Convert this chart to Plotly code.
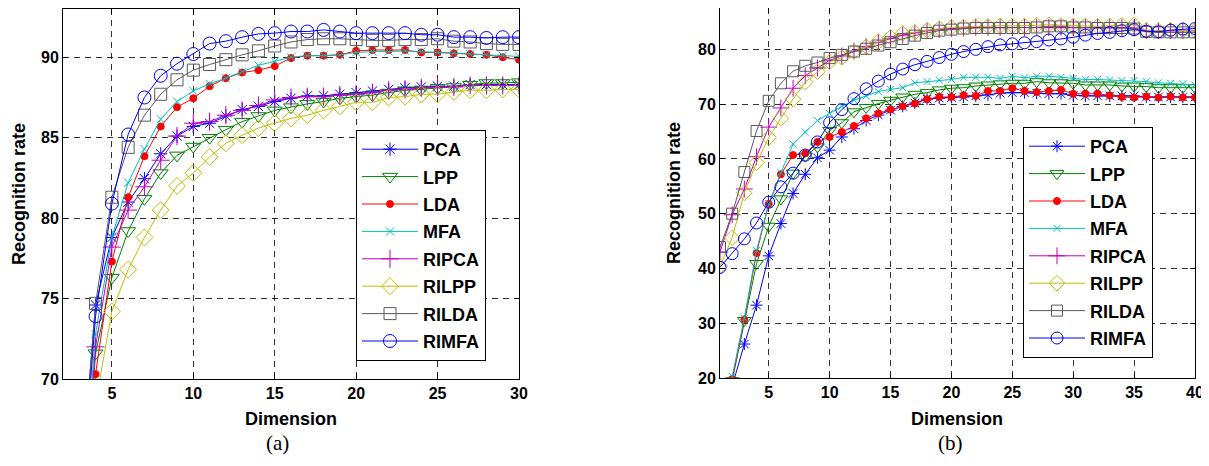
import plotly.graph_objects as go

# ---- data ----
dims_a = list(range(3, 31))
pca_a = [62.0, 74.6, 78.8, 81.0, 82.45, 84.0, 85.1, 85.7, 85.9, 86.35, 86.75, 86.95, 87.25, 87.45,
         87.6, 87.6, 87.7, 87.8, 87.9, 88.0, 88.1, 88.15, 88.2, 88.2, 88.3, 88.3, 88.3, 88.3]
lpp_a = [58.0, 71.6, 76.3, 79.2, 81.2, 82.8, 83.9, 84.45, 85.0, 85.5, 86.0, 86.35, 86.7, 86.9,
         87.1, 87.25, 87.45, 87.55, 87.65, 87.8, 87.95, 88.0, 88.1, 88.15, 88.3, 88.4, 88.4, 88.45]
lda_a = [57.0, 70.3, 77.3, 81.3, 83.85, 85.7, 86.9, 87.45, 88.2, 88.7, 89.05, 89.2, 89.45, 89.95,
         90.1, 90.1, 90.15, 90.4, 90.45, 90.45, 90.45, 90.3, 90.3, 90.25, 90.2, 90.15, 90.0, 89.85]
mfa_a = [60.0, 72.8, 78.8, 82.2, 84.3, 86.15, 87.25, 87.9, 88.35, 88.7, 89.1, 89.5, 89.75, 90.0,
         90.1, 90.1, 90.15, 90.3, 90.35, 90.35, 90.4, 90.35, 90.3, 90.25, 90.2, 90.15, 90.1, 90.05]
ripca_a = [59.0, 72.0, 78.2, 80.5, 81.95, 83.6, 85.1, 85.9, 86.0, 86.4, 86.7, 87.0, 87.35, 87.5,
           87.55, 87.55, 87.65, 87.7, 87.8, 87.95, 88.0, 88.1, 88.15, 88.15, 88.25, 88.25, 88.25, 88.25]
rilpp_a = [56.0, 68.5, 74.2, 76.8, 78.8, 80.5, 82.0, 82.8, 83.8, 84.65, 85.15, 85.6, 85.9, 86.2,
           86.4, 86.7, 86.95, 87.2, 87.2, 87.5, 87.55, 87.7, 87.7, 87.85, 87.95, 87.95, 88.0, 88.0]
rilda_a = [62.0, 74.7, 81.3, 84.4, 86.4, 87.7, 88.6, 89.2, 89.55, 89.85, 90.15, 90.4, 90.7, 90.95,
           91.1, 91.15, 91.15, 91.1, 91.05, 91.05, 91.1, 91.1, 91.15, 91.0, 90.95, 90.85, 90.8, 90.8]
rimfa_a = [61.0, 73.9, 80.9, 85.2, 87.5, 88.85, 89.6, 90.2, 90.85, 91.0, 91.25, 91.45, 91.5, 91.6,
           91.6, 91.7, 91.6, 91.5, 91.5, 91.5, 91.5, 91.4, 91.4, 91.25, 91.25, 91.2, 91.25, 91.25]

dims_b = list(range(1, 41))
dims_b_low = list(range(2, 41))
pca_b = [18.5, 26.2, 33.3, 42.3, 48.2, 53.7, 57.2, 60.2, 61.6,
         64.0, 65.5, 67.0, 68.0, 68.9, 69.6, 70.2, 70.9, 71.1, 71.2,
         71.3, 71.5, 71.7, 72.0, 72.1, 72.1, 72.0, 71.9, 71.9, 71.6,
         71.5, 71.5, 71.5, 71.5, 71.5, 71.3, 71.3, 71.3, 71.3, 71.3]
lpp_b = [19.5, 30.5, 40.9, 47.7, 52.7, 57.4, 60.5, 62.2, 65.2,
         66.6, 68.6, 69.4, 70.1, 70.7, 71.3, 71.8, 72.1, 72.6, 72.9,
         73.0, 73.3, 73.5, 73.7, 73.8, 73.8, 74.1, 73.9, 73.9, 73.8,
         73.5, 73.5, 73.5, 73.3, 73.3, 73.2, 73.0, 73.0, 73.0, 73.0]
lda_b = [19.8, 30.7, 42.8, 51.8, 57.2, 60.7, 61.0, 63.1, 64.0,
         64.9, 66.0, 67.4, 68.3, 69.0, 69.6, 70.1, 70.9, 71.3, 71.3,
         71.6, 71.5, 72.4, 72.4, 72.9, 72.4, 72.2, 72.4, 72.6, 71.9,
         71.9, 71.9, 71.6, 71.3, 71.2, 71.4, 71.2, 71.4, 71.2, 71.2]
mfa_b = [20.3, 30.9, 43.3, 51.8, 57.5, 62.7, 64.9, 67.0, 68.3,
         69.6, 70.7, 71.5, 72.3, 72.7, 73.0, 73.9, 74.1, 74.4, 74.5,
         74.9, 74.9, 74.9, 74.7, 75.1, 74.8, 75.1, 75.1, 74.9, 74.7,
         74.5, 74.5, 74.4, 74.3, 74.3, 74.1, 73.9, 73.8, 73.7, 73.5]
ripca_b = [43.0, 49.8, 54.5, 60.4, 65.8, 69.3, 72.9, 75.2, 76.6, 78.0,
           78.8, 79.7, 80.5, 81.3, 82.0, 82.6, 83.0, 83.4, 83.6, 83.8,
           83.9, 84.0, 84.0, 84.0, 84.0, 84.0, 84.0, 84.0, 84.0, 84.0,
           84.0, 84.0, 84.0, 84.0, 83.9, 83.4, 83.4, 83.4, 83.4, 83.4]
rilpp_b = [40.4, 45.6, 53.8, 59.3, 63.9, 67.4, 70.9, 74.0, 75.9, 77.7,
           78.5, 79.6, 80.5, 81.4, 82.2, 82.9, 83.1, 83.5, 83.8, 84.0,
           84.1, 84.2, 84.2, 84.3, 84.3, 84.3, 84.4, 84.5, 84.4, 84.3,
           84.3, 84.2, 84.3, 84.4, 84.5, 83.5, 83.4, 83.5, 83.5, 83.4]
rilda_b = [43.9, 50.0, 57.6, 65.1, 70.6, 73.8, 76.0, 77.0, 77.6, 78.4,
           79.0, 79.6, 80.1, 80.7, 81.3, 81.9, 82.5, 83.0, 83.4, 83.6,
           83.8, 83.9, 83.9, 83.9, 83.9, 83.9, 84.0, 84.2, 84.2, 84.0,
           84.0, 83.9, 83.9, 83.9, 83.8, 83.2, 83.1, 83.1, 83.1, 83.1]
rimfa_b = [40.2, 42.7, 45.4, 48.3, 52.1, 54.9, 57.4, 60.7, 63.1, 66.6,
           69.0, 71.0, 72.8, 74.2, 75.5, 76.4, 77.2, 77.8, 78.5, 79.1,
           79.6, 80.0, 80.5, 80.8, 81.0, 81.2, 81.4, 81.7, 81.9, 82.2,
           82.6, 82.9, 83.1, 83.4, 83.6, 83.3, 83.2, 83.5, 83.7, 83.8]

methods = ["PCA", "LPP", "LDA", "MFA", "RIPCA", "RILPP", "RILDA", "RIMFA"]
colors = ["#0000ff", "#008000", "#ff0000", "#00bfbf", "#bf00bf", "#bfbf00", "#5a5a5a", "#0000ff"]
symbols = ["asterisk-open", "triangle-down-open", "circle", "x-thin-open",
           "cross-thin-open", "diamond-open", "square-open", "circle-open"]
sizes_a = [11, 13, 7, 8, 13, 13, 12, 13]
sizes_b = [10, 12, 7, 7, 12, 12, 11, 12]

series_a = [(dims_a, pca_a), (dims_a, lpp_a), (dims_a, lda_a), (dims_a, mfa_a),
            (dims_a, ripca_a), (dims_a, rilpp_a), (dims_a, rilda_a), (dims_a, rimfa_a)]
series_b = [(dims_b_low, pca_b), (dims_b_low, lpp_b), (dims_b_low, lda_b), (dims_b_low, mfa_b),
            (dims_b, ripca_b), (dims_b, rilpp_b), (dims_b, rilda_b), (dims_b, rimfa_b)]

W, H = 1209, 466
OFF = 8  # the page body margin shifts the figure by 8px
FONT = "Arial, Liberation Sans, sans-serif"


def px(p):
    return (p - OFF) / W


def py(p):
    return min(1.0, 1 - (p - OFF) / H)


fig = go.Figure()

for i, name in enumerate(methods):
    x, y = series_a[i]
    fig.add_trace(go.Scatter(
        x=x, y=y, mode="lines+markers", name=name, legend="legend",
        legendgroup="a" + name, xaxis="x", yaxis="y",
        line=dict(color=colors[i], width=1),
        marker=dict(symbol=symbols[i], size=sizes_a[i], color=colors[i],
                    line=dict(color=colors[i], width=1)),
    ))
for i, name in enumerate(methods):
    x, y = series_b[i]
    fig.add_trace(go.Scatter(
        x=x, y=y, mode="lines+markers", name=name, legend="legend2",
        legendgroup="b" + name, xaxis="x2", yaxis="y2",
        line=dict(color=colors[i], width=1),
        marker=dict(symbol=symbols[i], size=sizes_b[i], color=colors[i],
                    line=dict(color=colors[i], width=1)),
    ))

axis_common = dict(
    showline=True, linecolor="black", linewidth=1, mirror="ticks",
    ticks="inside", ticklen=5, tickcolor="black",
    showgrid=True, gridcolor="rgba(0,0,0,0.8)", gridwidth=1, griddash="6px,5px",
    zeroline=False, automargin=False,
    tickfont=dict(family=FONT, size=16, color="black", weight="bold"),
)

legend_common = dict(
    xanchor="left", yanchor="top",
    bgcolor="white", bordercolor="black", borderwidth=1,
    font=dict(family=FONT, size=18, color="black", weight="bold"),
    itemwidth=56, traceorder="grouped", tracegroupgap=1,
)

fig.update_layout(
    width=W, height=H,
    margin=dict(l=0, r=0, t=0, b=0, autoexpand=False),
    paper_bgcolor="white", plot_bgcolor="white",
    xaxis=dict(axis_common, domain=[px(63), px(519)], range=[2, 30],
               tickvals=[5, 10, 15, 20, 25, 30], anchor="y"),
    yaxis=dict(axis_common, domain=[py(379), py(9)], range=[70, 93],
               tickvals=[70, 75, 80, 85, 90], anchor="x"),
    xaxis2=dict(axis_common, domain=[px(720), px(1195)], range=[1, 40],
                tickvals=[5, 10, 15, 20, 25, 30, 35, 40], anchor="y2"),
    yaxis2=dict(axis_common, domain=[py(378), py(8)], range=[20, 87.55],
                tickvals=[20, 30, 40, 50, 60, 70, 80], anchor="x2"),
    legend=dict(legend_common, x=px(356), y=py(130)),
    legend2=dict(legend_common, x=px(1023), y=py(127)),
    showlegend=True,
)

title_font = dict(family=FONT, size=18, color="black", weight="bold")
label_font = dict(family="Times New Roman, Liberation Serif, serif", size=21, color="black")
annots = [
    dict(text="Recognition rate", x=px(19), y=py(194), textangle=-90, font=title_font),
    dict(text="Recognition rate", x=px(674), y=py(193), textangle=-90, font=title_font),
    dict(text="Dimension", x=px(291), y=py(419), font=title_font),
    dict(text="Dimension", x=px(957), y=py(419), font=title_font),
    dict(text="(a)", x=px(277), y=py(443), font=label_font),
    dict(text="(b)", x=px(950), y=py(443), font=label_font),
]
for a in annots:
    fig.add_annotation(xref="paper", yref="paper", showarrow=False,
                       xanchor="center", yanchor="middle", **a)

fig.write_html("out.html")
